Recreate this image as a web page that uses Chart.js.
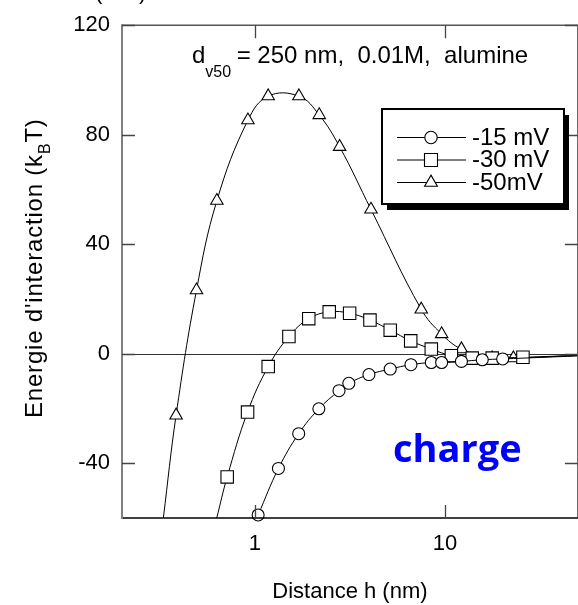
<!DOCTYPE html>
<html>
<head>
<meta charset="utf-8">
<script src="https://cdn.jsdelivr.net/npm/chart.js@4.4.1/dist/chart.umd.min.js"></script>
<style>
  html, body { margin: 0; padding: 0; background: #fff; overflow: hidden; }
  canvas { display: block; }
</style>
</head>
<body>
<canvas id="chart" width="585" height="605"></canvas>
<script>
// Distance h (nm) vs interaction energy (kBT)
const circH = [1.04, 1.33, 1.70, 2.17, 2.77, 3.12, 3.98, 5.15, 6.62, 8.47, 9.6, 12.2, 15.7, 20.1];
const circE = [-58.9, -41.9, -29.2, -20.1, -13.5, -10.8, -7.6, -5.6, -4.0, -3.2, -3.2, -2.8, -2.2, -1.9];
const sqH = [0.715, 0.915, 1.175, 1.51, 1.92, 2.46, 3.15, 4.03, 5.15, 6.6, 8.47, 10.8, 13.9, 17.7, 25.7];
const sqE = [-45.0, -21.3, -4.7, 6.3, 12.8, 15.3, 14.8, 12.3, 8.6, 4.7, 1.7, -0.7, -1.6, -1.6, -1.3];
const triH = [0.385, 0.493, 0.631, 0.919, 1.175, 1.704, 2.18, 2.79, 4.08, 7.5, 9.6, 12.2, 17.7, 22.9];
const triE = [-22.5, 23.2, 55.9, 85.3, 94.1, 94.1, 87.2, 75.6, 52.7, 16.2, 7.2, 1.7, -1.6, -1.6];

// where the curves leave the frame (no marker there)
const circEnd = [50, -0.8];
const sqStart = [0.63, -60];
const sqEnd = [50, -0.6];
const triStart = [0.33, -60];
const triEnd = [50, -0.6];

const seriesLabels = ['-15 mV', '-30 mV', '-50mV'];
const xTicks = [1, 10];
const yTicks = [-40, 0, 40, 80, 120];

const sans = '"Liberation Sans", Arial, Helvetica, sans-serif';

function pts(hs, es, start, end){
  const out = hs.map((h, i) => ({x: h, y: es[i], m: true}));
  if(start) out.unshift({x: start[0], y: start[1], m: false});
  if(end) out.push({x: end[0], y: end[1], m: false});
  return out;
}

function series(label, data, style, radius){
  return {
    label, data,
    pointStyle: style,
    borderColor: '#000',
    borderWidth: 1,
    backgroundColor: '#fff',
    pointBackgroundColor: '#fff',
    pointBorderColor: '#000',
    pointBorderWidth: 1.1,
    pointRadius: c => (c.raw && c.raw.m) ? radius : 0,
    pointHoverRadius: c => (c.raw && c.raw.m) ? radius : 0,
    tension: 0.4,
    fill: false,
    clip: false,
  };
}

const datasets = [
  series(seriesLabels[0], pts(circH, circE, null, circEnd), 'circle', 6),
  series(seriesLabels[1], pts(sqH, sqE, sqStart, sqEnd), 'rect', 8.8),
  series(seriesLabels[2], pts(triH, triE, triStart, triEnd), 'triangle', 7.2),
];

function drawSub(ctx, parts, x, y){
  // parts: [text, size, dy]
  let cx = x;
  for(const [t, size, dy] of parts){
    ctx.font = `${size}px ${sans}`;
    ctx.fillText(t, cx, y + dy);
    cx += ctx.measureText(t).width;
  }
}

const decor = {
  id: 'decor',
  beforeDatasetsDraw(chart){
    const {ctx, chartArea: a, scales: {y}} = chart;
    ctx.save();
    ctx.strokeStyle = '#333';
    ctx.lineWidth = 1;
    const y0 = Math.round(y.getPixelForValue(0)) + 0.5;
    ctx.beginPath(); ctx.moveTo(a.left, y0); ctx.lineTo(a.right, y0); ctx.stroke();
    ctx.restore();
  },
  afterDatasetsDraw(chart){
    const {ctx, chartArea: a, scales: {x, y}} = chart;
    ctx.save();
    // frame
    ctx.lineWidth = 1.5;
    ctx.strokeStyle = '#555';
    ctx.beginPath(); ctx.moveTo(a.left, a.top); ctx.lineTo(a.right, a.top); ctx.lineTo(a.right, a.bottom); ctx.stroke();
    ctx.strokeStyle = '#000';
    ctx.beginPath(); ctx.moveTo(a.left, a.bottom); ctx.lineTo(a.right, a.bottom); ctx.stroke();
    ctx.lineWidth = 2;
    ctx.strokeStyle = '#808080';
    ctx.beginPath(); ctx.moveTo(a.left, a.top - 1); ctx.lineTo(a.left, a.bottom + 1); ctx.stroke();
    // inward ticks
    const tl = 13;
    ctx.lineWidth = 1.3;
    ctx.strokeStyle = '#444';
    for(const v of yTicks){
      const py = Math.round(y.getPixelForValue(v)) + 0.5;
      ctx.beginPath(); ctx.moveTo(a.left, py); ctx.lineTo(a.left + tl, py);
      ctx.moveTo(a.right, py); ctx.lineTo(a.right - tl, py); ctx.stroke();
    }
    for(const v of xTicks){
      const px = Math.round(x.getPixelForValue(v)) + 0.5;
      ctx.beginPath(); ctx.moveTo(px, a.bottom); ctx.lineTo(px, a.bottom - tl);
      ctx.moveTo(px, a.top); ctx.lineTo(px, a.top + tl); ctx.stroke();
    }
    ctx.restore();
  },
  afterDraw(chart){
    const {ctx, chartArea: a} = chart;
    ctx.save();
    ctx.fillStyle = '#000';
    ctx.textBaseline = 'alphabetic';
    ctx.textAlign = 'left';

    // x title
    ctx.font = `22px ${sans}`;
    ctx.textAlign = 'center';
    ctx.fillText('Distance h (nm)', (a.left + a.right) / 2, 598);
    ctx.textAlign = 'left';

    // y title, rotated
    ctx.save();
    ctx.translate(42, 418);
    ctx.rotate(-Math.PI / 2);
    ctx.letterSpacing = '0.8px';
    drawSub(ctx, [["Energie d'interaction (k", 24, 0], ['B', 16, 8], ['T)', 24, 0]], 0, 0);
    ctx.restore();

    // unit text cut off at the top
    ctx.font = `22px ${sans}`;
    ctx.fillText('(k  T)', 95, -1.5);

    // annotation
    drawSub(ctx, [['d', 24, 0], ['v50', 16, 13.5]], 192, 63);
    ctx.font = `24px ${sans}`;
    ctx.fillText(' = 250 nm,  0.01M,  alumine', 230, 63);

    // legend
    const bx = 382, by = 109, bw = 182, bh = 95;
    ctx.fillStyle = '#000';
    ctx.fillRect(bx + 5, by + 6, bw, bh);
    ctx.fillStyle = '#fff';
    ctx.fillRect(bx, by, bw, bh);
    ctx.lineWidth = 2;
    ctx.strokeStyle = '#000';
    ctx.strokeRect(bx, by, bw, bh);
    const rows = [137, 159.5, 182];
    chart.data.datasets.forEach((ds, i) => {
      const ly = rows[i];
      ctx.lineWidth = 1;
      ctx.strokeStyle = '#000';
      ctx.beginPath(); ctx.moveTo(397, ly + 0.5); ctx.lineTo(466, ly + 0.5); ctx.stroke();
      ctx.fillStyle = '#fff';
      ctx.lineWidth = 1.1;
      const r = ds.pointStyle === 'rect' ? 9.2 : (ds.pointStyle === 'triangle' ? 7.4 : 6.2);
      Chart.helpers.drawPoint(ctx, {pointStyle: ds.pointStyle, radius: r, rotation: 0, borderWidth: 1.1}, 431, ly + 0.5);
      ctx.fillStyle = '#000';
      ctx.font = `24px ${sans}`;
      ctx.textBaseline = 'middle';
      ctx.fillText(ds.label, 472, ly + 1);
      ctx.textBaseline = 'alphabetic';
    });

    // label
    ctx.fillStyle = '#0000ff';
    ctx.font = `bold 38px "Open Sans", "Noto Sans", sans-serif`;
    ctx.fillText('charge', 393, 462);
    ctx.restore();
  }
};

new Chart(document.getElementById('chart'), {
  type: 'line',
  data: { datasets },
  options: {
    responsive: false,
    devicePixelRatio: 1,
    animation: false,
    layout: { padding: { top: 24, right: 5, left: 0, bottom: 0 } },
    plugins: { legend: { display: false }, tooltip: { enabled: false } },
    scales: {
      x: {
        type: 'logarithmic',
        min: 0.2, max: 50,
        afterBuildTicks: s => { s.ticks = xTicks.map(v => ({value: v})); },
        afterFit: s => { s.height = 87; },
        grid: { display: false, drawTicks: false },
        border: { display: false },
        ticks: {
          color: '#000', padding: 13, maxRotation: 0, autoSkip: false,
          font: { family: sans, size: 22 },
          callback: v => String(v),
        },
      },
      y: {
        type: 'linear',
        min: -60, max: 120,
        afterBuildTicks: s => { s.ticks = yTicks.map(v => ({value: v})); },
        afterFit: s => { s.width = 122; },
        grid: { display: false, drawTicks: false },
        border: { display: false },
        ticks: {
          color: '#000', padding: 12,
          font: { family: sans, size: 22 },
        },
      },
    },
  },
  plugins: [decor],
});
</script>
</body>
</html>
